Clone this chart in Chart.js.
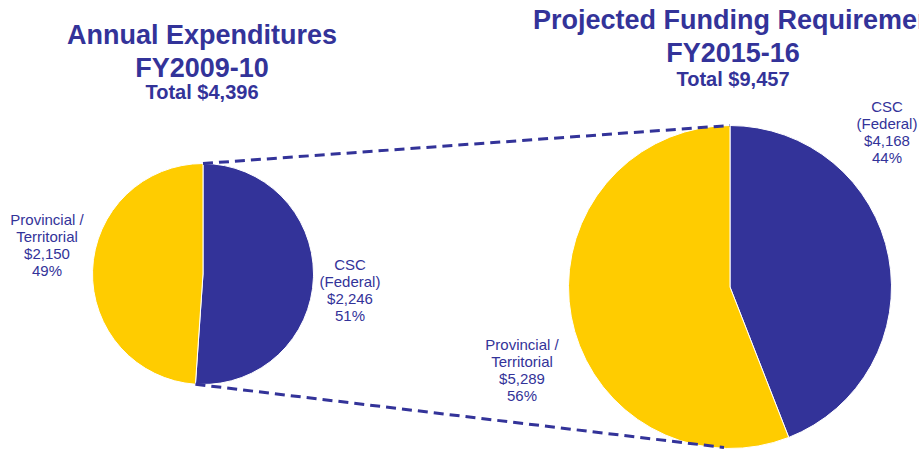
<!DOCTYPE html>
<html>
<head>
<meta charset="utf-8">
<script src="https://cdn.jsdelivr.net/npm/chart.js@4/dist/chart.umd.min.js"></script>
<style>
  html, body { margin: 0; padding: 0; background: #fff; }
  #wrap { position: relative; width: 919px; height: 449px; overflow: hidden; font-family: "Liberation Sans", Arial, sans-serif; color: #333399; }
  .title { position: absolute; text-align: center; font-weight: bold; font-size: 27px; line-height: 33px; white-space: nowrap; }
  .total { position: absolute; text-align: center; font-weight: bold; font-size: 20px; white-space: nowrap; }
  .lbl { position: absolute; text-align: center; font-size: 15px; line-height: 17px; white-space: nowrap; }
  canvas { position: absolute; }
</style>
</head>
<body>
<div id="wrap">
  <div class="title" style="left:2px;width:400px;top:19px;">Annual Expenditures<br>FY2009-10</div>
  <div class="total" style="left:2px;width:400px;top:81px;">Total $4,396</div>
  <div class="title" style="left:533px;width:400px;top:4px;">Projected Funding Requirements<br>FY2015-16</div>
  <div class="total" style="left:533px;width:400px;top:68px;">Total $9,457</div>

  <div class="lbl" style="left:0px;width:94px;top:211px;">Provincial /<br>Territorial<br>$2,150<br>49%</div>
  <div class="lbl" style="left:307px;width:86px;top:256px;">CSC<br>(Federal)<br>$2,246<br>51%</div>
  <div class="lbl" style="left:475px;width:94px;top:336px;">Provincial /<br>Territorial<br>$5,289<br>56%</div>
  <div class="lbl" style="left:844px;width:86px;top:98px;">CSC<br>(Federal)<br>$4,168<br>44%</div>

  <canvas id="leftPie" width="222" height="222" style="left:92px;top:163px;"></canvas>
  <canvas id="rightPie" width="324" height="324" style="left:568px;top:125px;"></canvas>
  <canvas id="links" width="919" height="449" style="left:0;top:0;pointer-events:none;"></canvas>
</div>
<script>
// data
const sliceLabels = ["CSC (Federal)", "Provincial / Territorial"];
const fy2009 = [2246, 2150];
const fy2015 = [4168, 5289];
const sliceColors = ["#333399", "#FFCC00"];

let charts = {};

function buildPie(id, values) {
    charts[id] = new Chart(document.getElementById(id), {
        type: "pie",
        data: { labels: sliceLabels, datasets: [{ data: values, backgroundColor: sliceColors, borderColor: "#ffffff", borderWidth: 1 }] },
        options: {
            responsive: false, animation: false,
            layout: { padding: 0 },
            plugins: { legend: { display: false }, tooltip: { enabled: false } }
        }
    });
}

buildPie("leftPie", fy2009);
buildPie("rightPie", fy2015);

// dashed connectors between the two pies, from the arc geometry
function arcInfo(id) {
    let ch = charts[id];
    let arc = ch.getDatasetMeta(0).data[0];
    let c = ch.canvas;
    return { x: arc.x + c.offsetLeft, y: arc.y + c.offsetTop, r: arc.outerRadius, end: arc.endAngle };
}

function drawLinks() {
    let a = arcInfo("leftPie"), b = arcInfo("rightPie");
    let ctx = document.getElementById("links").getContext("2d");
    ctx.strokeStyle = "#333399";
    ctx.lineWidth = 3;
    ctx.setLineDash([10, 6]);
    ctx.beginPath();
    ctx.moveTo(a.x, a.y - a.r);
    ctx.lineTo(b.x, b.y - b.r);
    ctx.moveTo(a.x + a.r * Math.cos(a.end), a.y + a.r * Math.sin(a.end));
    ctx.lineTo(b.x - 6, b.y + b.r - 1);
    ctx.stroke();
}
drawLinks();
</script>
</body>
</html>
